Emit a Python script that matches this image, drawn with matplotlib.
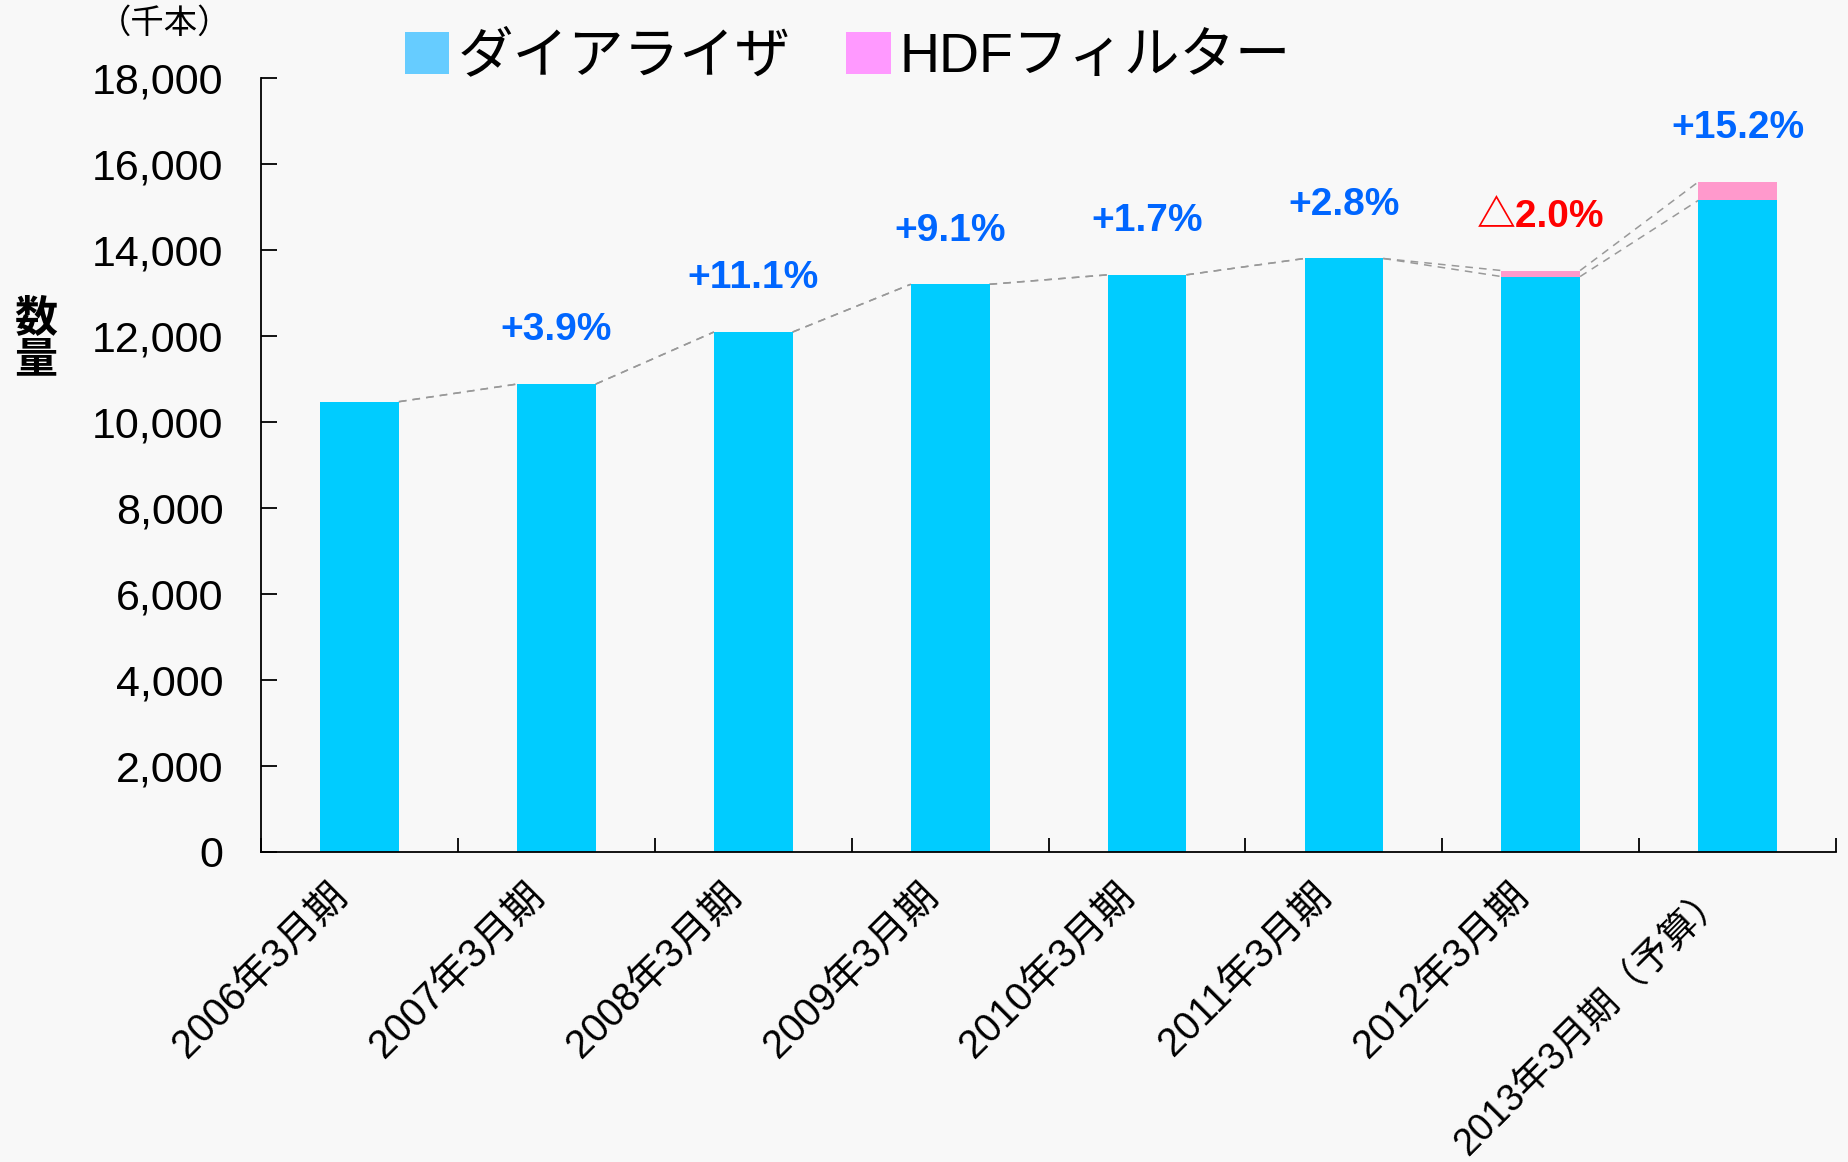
import matplotlib.pyplot as plt
from matplotlib.patches import Patch
from matplotlib.ticker import FuncFormatter, MultipleLocator
from matplotlib.transforms import ScaledTranslation
import numpy as np

plt.rcParams['font.family'] = ['Liberation Sans', 'Noto Sans CJK JP', 'DejaVu Sans']

# data (thousand units)
periods = ['2006年3月期', '2007年3月期', '2008年3月期', '2009年3月期',
           '2010年3月期', '2011年3月期', '2012年3月期', '2013年3月期（予算）']
dialyzer = [10470, 10880, 12090, 13200, 13420, 13800, 13380, 15150]
hdf = [0, 0, 0, 0, 0, 0, 140, 430]
growth = ['', '+3.9%', '+11.1%', '+9.1%', '+1.7%', '+2.8%', '△2.0%', '+15.2%']
growth_colors = ['#0066ff'] * 6 + ['#ff0000', '#0066ff']

bg = '#f8f8f8'
bar_blue = '#00ccff'
bar_pink = '#ff99cc'
width = 0.4

fig = plt.figure(figsize=(18.49, 11.62), dpi=100, facecolor=bg)
ax = fig.add_axes([0.1412, 0.2668, 0.8518, 0.6662])
ax.set_facecolor(bg)

x = np.arange(len(periods))
total = np.array(dialyzer) + np.array(hdf)

ax.bar(x, dialyzer, width, color=bar_blue, zorder=2)
ax.bar(x, hdf, width, bottom=dialyzer, color=bar_pink, zorder=2)

# dashed connector lines between bar tops
for tops in (np.array(dialyzer), total):
    for i in range(len(x) - 1):
        ax.plot([x[i] + width / 2, x[i + 1] - width / 2], [tops[i], tops[i + 1]],
                color='#999999', lw=1.1, ls=(0, (5, 4)), zorder=1)

# growth labels
for i in range(len(x)):
    if growth[i]:
        ax.text(x[i], total[i] + 1250, growth[i], ha='center', va='center',
                fontsize=28, fontweight='bold', color=growth_colors[i])

ax.set_xlim(-0.5, len(x) - 0.5)
ax.set_ylim(0, 18000)
ax.yaxis.set_major_locator(MultipleLocator(2000))
ax.yaxis.set_major_formatter(FuncFormatter(lambda v, p: '{:,.0f}'.format(v)))
ax.tick_params(axis='y', direction='in', length=11.5, width=1.3, labelsize=31, pad=27)

# category labels drawn as rotated texts under each bar
ax.set_xticks(x)
ax.set_xticklabels([])
ax.tick_params(axis='x', which='major', length=0)
lab_trans = ax.get_xaxis_transform() + ScaledTranslation(-0.18, -0.38, fig.dpi_scale_trans)
for i, p in enumerate(periods):
    ax.text(x[i], 0, p, transform=lab_trans, rotation=45, rotation_mode='anchor',
            ha='right', va='center', fontsize=27 if i == len(x) - 1 else 28.5)

ax.set_xticks(np.arange(len(x) + 1) - 0.5, minor=True)
ax.tick_params(axis='x', which='minor', direction='in', length=10, width=1.3)

for s in ['top', 'right']:
    ax.spines[s].set_visible(False)
for s in ['left', 'bottom']:
    ax.spines[s].set_linewidth(1.3)

fig.text(0.089, 0.979, '（千本）', ha='center', va='center', fontsize=24)
fig.text(0.019, 0.707, '数\n量', ha='center', va='center', fontsize=31,
         fontweight='bold', linespacing=1.0)

handles = [Patch(facecolor='#66ccff', edgecolor='none', label='ダイアライザ'),
           Patch(facecolor='#ff99ff', edgecolor='none', label='HDFフィルター')]
fig.legend(handles=handles, loc='center left', bbox_to_anchor=(0.207, 0.950),
           ncol=2, frameon=False, fontsize=40, handlelength=0.8, handleheight=0.8,
           handletextpad=0.15, columnspacing=1.0, borderaxespad=0)

fig.savefig('out.png', dpi=100, facecolor=bg)
